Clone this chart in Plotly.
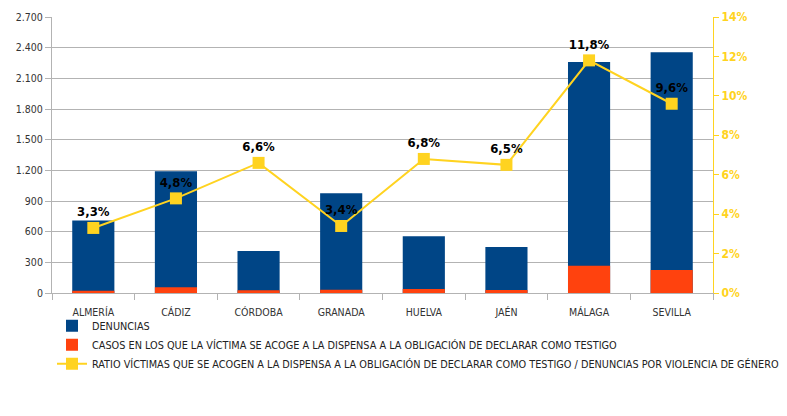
import plotly.graph_objects as go

categories = ["ALMERÍA", "CÁDIZ", "CÓRDOBA", "GRANADA", "HUELVA", "JAÉN", "MÁLAGA", "SEVILLA"]
denuncias = [710, 1190, 410, 975, 555, 450, 2260, 2355]
casos = [23, 57, 27, 33, 38, 29, 267, 226]
ratio = [3.3, 4.8, 6.6, 3.4, 6.8, 6.5, 11.8, 9.6]
left_ticks = [0, 300, 600, 900, 1200, 1500, 1800, 2100, 2400, 2700]
right_ticks = [0, 2, 4, 6, 8, 10, 12, 14]

FONT = "DejaVu Sans Condensed, Liberation Sans Narrow, sans-serif"
YELLOW = "#FFD320"

fig = go.Figure()
fig.add_trace(go.Bar(x=categories, y=denuncias, name="DENUNCIAS",
                     marker=dict(color="#004586", line=dict(width=0))))
fig.add_trace(go.Bar(x=categories, y=casos,
                     name="CASOS EN LOS QUE LA VÍCTIMA SE ACOGE A LA DISPENSA A LA OBLIGACIÓN DE DECLARAR COMO TESTIGO",
                     marker=dict(color="#FF420E", line=dict(width=0))))
fig.add_trace(go.Scatter(x=categories, y=ratio, yaxis="y2", mode="lines+markers+text",
                         name="RATIO VÍCTIMAS QUE SE ACOGEN A LA DISPENSA A LA OBLIGACIÓN DE DECLARAR COMO TESTIGO / DENUNCIAS POR VIOLENCIA DE GÉNERO",
                         line=dict(color=YELLOW, width=2),
                         marker=dict(symbol="square", size=12, color=YELLOW),
                         text=["<b>" + f"{v:.1f}%".replace(".", ",") + "</b>" for v in ratio],
                         textposition="top center",
                         textfont=dict(family=FONT, size=13, color="#000000"),
                         cliponaxis=False))

fig.update_layout(
    width=779, height=408,
    margin=dict(l=44, r=74, t=9, b=123, autoexpand=False),
    paper_bgcolor="white", plot_bgcolor="white",
    barmode="overlay", bargap=0.49,
    separators=",.",
    font=dict(family=FONT, size=10, color="#333333"),
    showlegend=True,
    legend=dict(x=0.0, xanchor="left", y=-0.066, yanchor="top",
                orientation="v", font=dict(family=FONT, size=10.8, color="#222222"),
                itemwidth=30, tracegroupgap=0, bgcolor="rgba(0,0,0,0)"),
    xaxis=dict(showline=True, linecolor="#b3b3b3", linewidth=1,
               ticks="outside", tickson="boundaries", ticklen=6, tickcolor="#b3b3b3",
               ticklabelstandoff=9,
               tickfont=dict(family=FONT, size=10.5, color="#333333"),
               showgrid=False, automargin=False),
    yaxis=dict(range=[0, 2700], tickvals=left_ticks, tickformat=",d",
               showline=True, linecolor="#b3b3b3", ticks="outside", ticklen=6,
               tickcolor="#b3b3b3", showgrid=True, gridcolor="#b3b3b3", gridwidth=1,
               tickfont=dict(family=FONT, size=10.5, color="#333333"), zeroline=False,
               automargin=False),
    yaxis2=dict(range=[0, 14], tickvals=right_ticks,
                ticktext=[f"<b>{v}%</b>" for v in right_ticks], overlaying="y",
                side="right", showline=True, linecolor=YELLOW, ticks="outside", ticklen=5,
                tickcolor=YELLOW, showgrid=False, zeroline=False, automargin=False,
                tickfont=dict(family=FONT, size=12, color=YELLOW)),
)

fig.write_html("out.html")
